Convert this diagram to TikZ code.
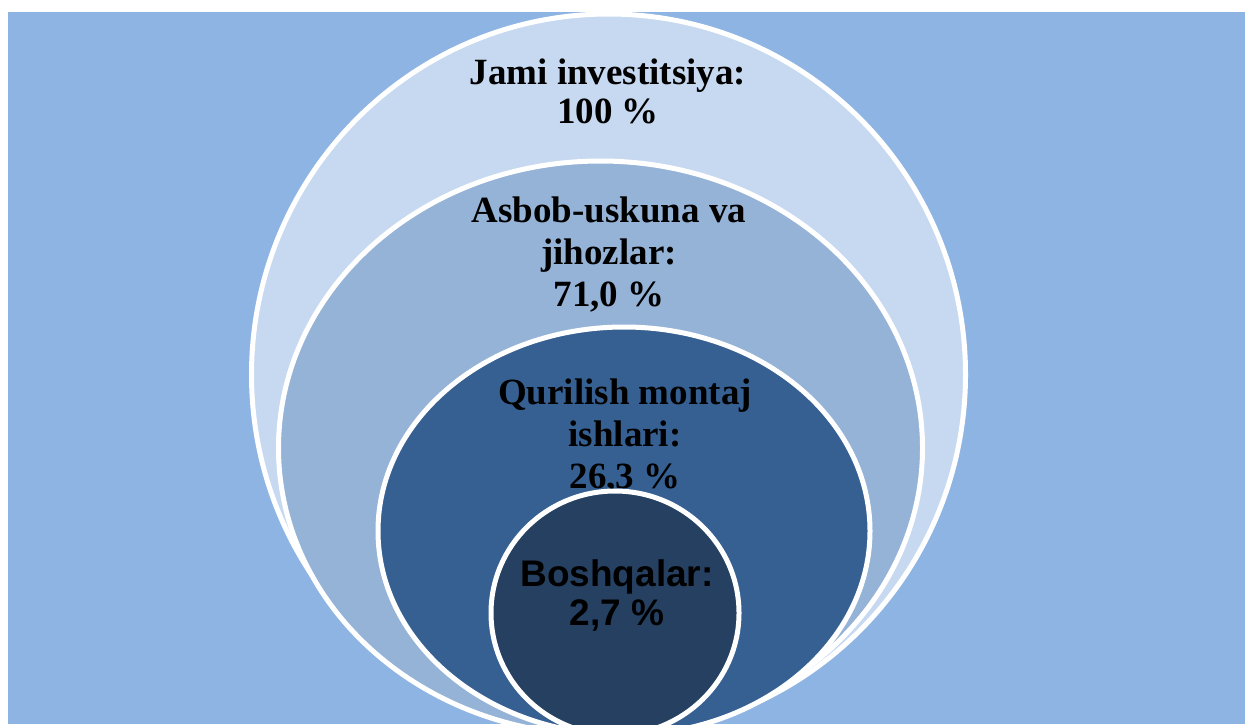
\documentclass[tikz,border=0pt]{standalone}
\usepackage{fontspec}
\setmainfont{Liberation Serif}
\newfontfamily\arialfont{Liberation Sans}
\definecolor{bgblue}{HTML}{8EB4E3}
\definecolor{ringA}{HTML}{C6D9F1}
\definecolor{ringB}{HTML}{95B3D7}
\definecolor{ringC}{HTML}{366092}
\definecolor{ringD}{HTML}{254061}
\tikzset{
  ring/.style={draw=white, line width=2.5pt},
  lbl/.style={align=center, text=black, inner sep=0pt,
    font=\fontsize{18.5}{21}\selectfont\bfseries},
  lblsans/.style={lbl, font=\arialfont\fontsize{18.5}{19.5}\selectfont\bfseries}
}
\begin{document}
\begin{tikzpicture}[x=0.5pt,y=-0.5pt]
\useasboundingbox (0,0) rectangle (1245,724);
\clip (0,0) rectangle (1245,724);
\fill[white] (0,0) rectangle (1245,724);
\fill[bgblue] (8,12) rectangle (1245,724);
\draw[ring, fill=ringA] (608.5,374.5) ellipse [x radius=357, y radius=360.5];
\node[lbl, font=\fontsize{18.5}{19.5}\selectfont\bfseries] (jami) at (608,91) {Jami investitsiya:\\100 \%};
\draw[ring, fill=ringB] (600.5,448) ellipse [x radius=322, y radius=287];
\node[lbl] (asbob) at (609,255) {Asbob-uskuna va\\jihozlar:\\71,0 \%};
\draw[ring, fill=ringC] (624,531) ellipse [x radius=246, y radius=204];
\node[lbl] (qurilish) at (625,437) {Qurilish montaj\\ishlari:\\26,3 \%};
\draw[ring, fill=ringD] (615,613) ellipse [x radius=124, y radius=122];
\node[lblsans] (boshqa) at (617,595) {Boshqalar:\\2,7 \%};
\end{tikzpicture}
\end{document}
